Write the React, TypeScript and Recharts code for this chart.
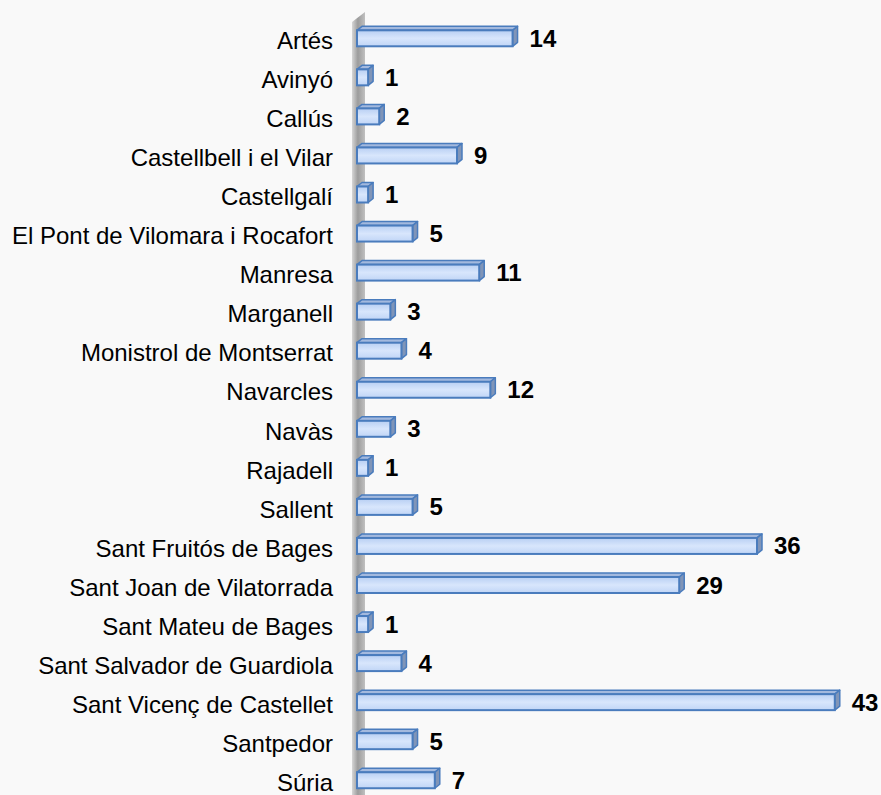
import React from 'react';
import { BarChart, Bar, XAxis, YAxis, LabelList, usePlotArea } from 'recharts';

const categories = ['Artés', 'Avinyó', 'Callús', 'Castellbell i el Vilar', 'Castellgalí', 'El Pont de Vilomara i Rocafort', 'Manresa', 'Marganell', 'Monistrol de Montserrat', 'Navarcles', 'Navàs', 'Rajadell', 'Sallent', 'Sant Fruitós de Bages', 'Sant Joan de Vilatorrada', 'Sant Mateu de Bages', 'Sant Salvador de Guardiola', 'Sant Vicenç de Castellet', 'Santpedor', 'Súria'];
const values = [14, 1, 2, 9, 1, 5, 11, 3, 4, 12, 3, 1, 5, 36, 29, 1, 4, 43, 5, 7];

const data = categories.map((name, i) => ({ name, value: values[i] }));

const FONT = '"Liberation Sans", Arial, sans-serif';
const DX = 5;
const DY = 4;
const SHIFT = -2.7;

function Wall() {
  const area = usePlotArea();
  if (!area) return null;
  const xl = area.x - 5;
  const xr = area.x + 8;
  const bottom = area.y + area.height + 20;
  return (
    <g>
      <defs>
        <linearGradient id="wallGrad" x1="0" y1="0" x2="1" y2="0">
          <stop offset="0%" stopColor="#d6d6d6" />
          <stop offset="45%" stopColor="#9c9c9c" />
          <stop offset="100%" stopColor="#c0c0c0" />
        </linearGradient>
      </defs>
      <polygon
        points={`${xl},${area.y + 1} ${xr},${area.y - 9} ${xr},${bottom - 10} ${xl},${bottom}`}
        fill="url(#wallGrad)"
      />
    </g>
  );
}

function Bar3D(props: any) {
  const { x, y, width, height } = props;
  if (width == null || width <= 0) return null;
  const fy = y + SHIFT;
  const h = height;
  const w = Math.max(width, 11);
  return (
    <g>
      <polygon
        points={`${x},${fy} ${x + DX},${fy - DY} ${x + w + DX},${fy - DY} ${x + w},${fy}`}
        fill="#a3b9de"
        stroke="#4a7cbd"
        strokeWidth={1.5}
        strokeLinejoin="round"
      />
      <polygon
        points={`${x + w},${fy} ${x + w + DX},${fy - DY} ${x + w + DX},${fy + h - DY} ${x + w},${fy + h}`}
        fill="#8095b8"
        stroke="#4a7cbd"
        strokeWidth={1.5}
        strokeLinejoin="round"
      />
      <rect x={x} y={fy} width={w} height={h} fill="url(#frontGrad)" stroke="#4a7cbd" strokeWidth={2} />
    </g>
  );
}

function ValueLabel(props: any) {
  const { x, y, width, height, value } = props;
  return (
    <text
      x={x + Math.max(width, 11) + 17}
      y={y + height / 2 + SHIFT}
      dy="0.355em"
      textAnchor="start"
      fontFamily={FONT}
      fontWeight="bold"
      fontSize={24}
      fill="#000"
    >
      {value}
    </text>
  );
}

export default function App() {
  return (
    <div style={{ position: 'absolute', left: 0, top: 0, width: 881, height: 795, overflow: 'hidden', background: '#f9f9f9' }}>
      <BarChart
        width={881}
        height={805}
        data={data}
        layout="vertical"
        margin={{ top: 21, right: 24, bottom: 3, left: 0 }}
        barCategoryGap={0}
      >
        <defs>
          <linearGradient id="frontGrad" x1="0" y1="0" x2="0" y2="1">
            <stop offset="0%" stopColor="#b8cff3" />
            <stop offset="50%" stopColor="#d8e6fc" />
            <stop offset="100%" stopColor="#c0d5f6" />
          </linearGradient>
        </defs>
        <Wall />
        <XAxis type="number" domain={[0, 45]} hide />
        <YAxis
          type="category"
          dataKey="name"
          width={357}
          axisLine={false}
          tickLine={false}
          tickSize={0}
          tickMargin={24}
          interval={0}
          tick={{ fontFamily: FONT, fontSize: 24, fill: '#000' }}
        />
        <Bar dataKey="value" barSize={16} isAnimationActive={false} shape={<Bar3D />}>
          <LabelList dataKey="value" content={<ValueLabel />} />
        </Bar>
      </BarChart>
    </div>
  );
}
